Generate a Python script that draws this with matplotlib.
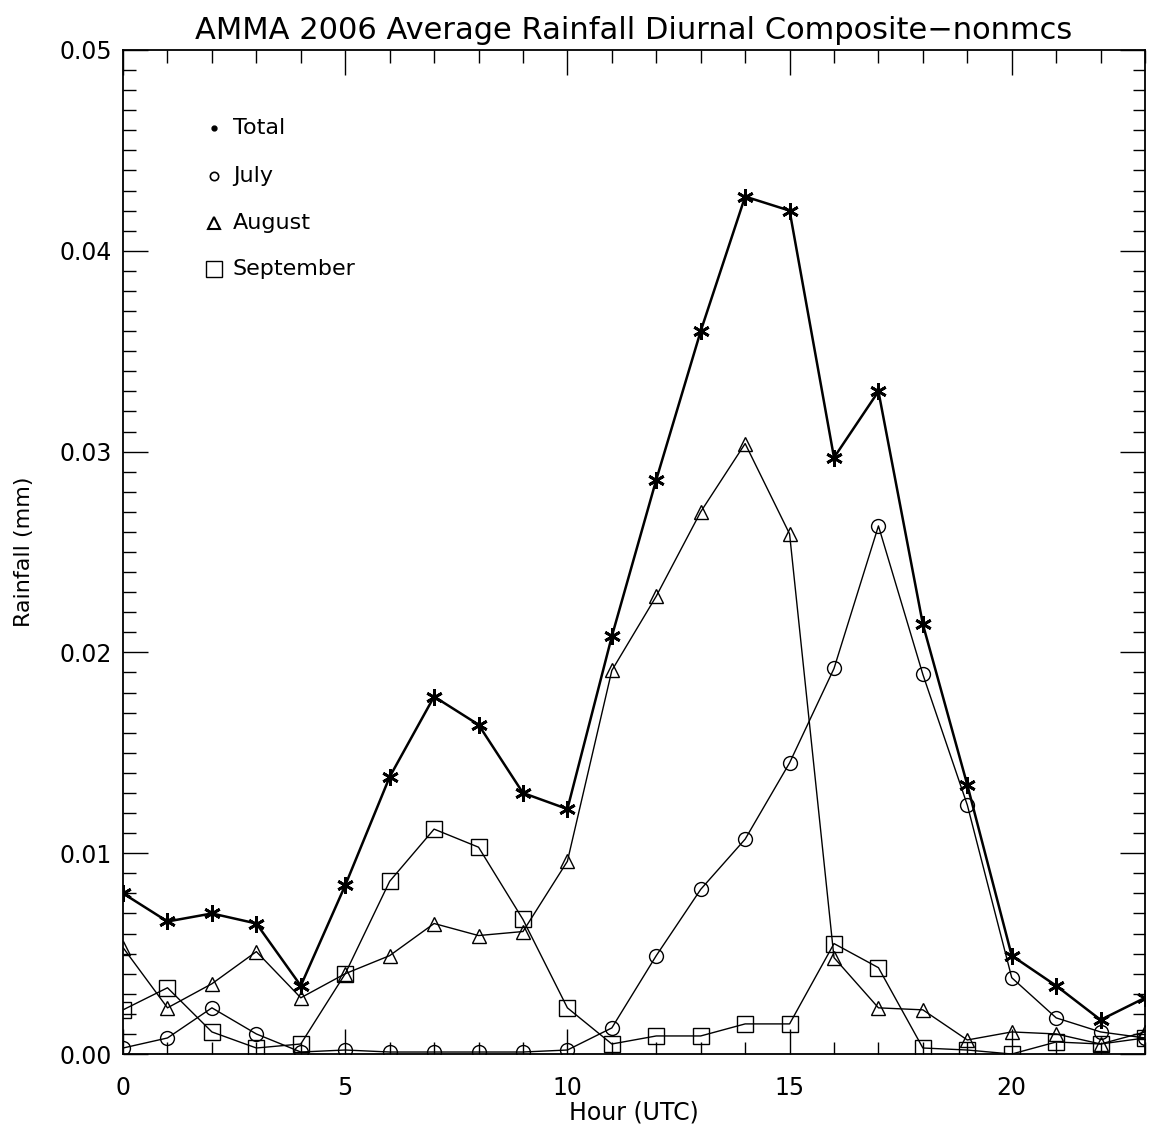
import numpy as np
import matplotlib
matplotlib.use('Agg')
import matplotlib.pyplot as plt

hours = np.arange(24)

total = [0.0080, 0.0066, 0.0070, 0.0065, 0.0034, 0.0084, 0.0138, 0.0178,
         0.0164, 0.0130, 0.0122, 0.0208, 0.0286, 0.0360, 0.0427, 0.0420,
         0.0297, 0.0330, 0.0214, 0.0134, 0.0049, 0.0034, 0.0017, 0.0028]
july = [0.0003, 0.0008, 0.0023, 0.0010, 0.0001, 0.0002, 0.0001, 0.0001,
        0.0001, 0.0001, 0.0002, 0.0013, 0.0049, 0.0082, 0.0107, 0.0145,
        0.0192, 0.0263, 0.0189, 0.0124, 0.0038, 0.0018, 0.0011, 0.0008]
august = [0.0053, 0.0023, 0.0035, 0.0051, 0.0028, 0.0040, 0.0049, 0.0065,
          0.0059, 0.0061, 0.0096, 0.0191, 0.0228, 0.0270, 0.0304, 0.0259,
          0.0048, 0.0023, 0.0022, 0.0007, 0.0011, 0.0010, 0.0005, 0.0011]
september = [0.0022, 0.0033, 0.0011, 0.0003, 0.0005, 0.0040, 0.0086, 0.0112,
             0.0103, 0.0067, 0.0023, 0.0005, 0.0009, 0.0009, 0.0015, 0.0015,
             0.0055, 0.0043, 0.0003, 0.0002, 0.0000, 0.0006, 0.0005, 0.0008]

legend_names = ['Total', 'July', 'August', 'September']

fig = plt.figure(figsize=(11.5, 11.33), dpi=100)
ax = fig.add_axes([0.107, 0.0697, 0.8887, 0.8862])

ax.plot(hours, total, color='black', lw=1.8, marker=(6, 2, 0), ms=12, mew=2.0)
ax.plot(hours, july, color='black', lw=1.0, marker='o', ms=10, mfc='none', mew=1.0)
ax.plot(hours, august, color='black', lw=1.0, marker='^', ms=10, mfc='none', mew=1.0)
ax.plot(hours, september, color='black', lw=1.0, marker='s', ms=11, mfc='none', mew=1.0)

# legend drawn by hand like the IDL plot
leg_marks = [dict(marker='o', ms=3.5, mfc='black', mec='black'),
             dict(marker='o', ms=6, mfc='none', mec='black', mew=1.2),
             dict(marker='^', ms=9, mfc='none', mec='black', mew=1.5),
             dict(marker='s', ms=11, mfc='none', mec='black', mew=1.0)]
leg_y = [0.0461, 0.0437, 0.0414, 0.0391]
leg_x = [2.05, 2.05, 2.05, 2.05]
for name, mk, yy, xx in zip(legend_names, leg_marks, leg_y, leg_x):
    ax.plot([xx], [yy], ls='none', **mk)
    ax.text(xx + 0.42, yy, name, fontsize=16, va='center', ha='left')

ax.set_xlim(0, 23)
ax.set_ylim(0, 0.05)
ax.set_xticks([0, 5, 10, 15, 20])
ax.set_xticks(np.arange(0, 24, 1), minor=True)
ax.set_yticks(np.arange(0, 0.051, 0.01))
ax.set_yticks(np.arange(0, 0.0501, 0.001), minor=True)
ax.set_yticklabels(['0.00', '0.01', '0.02', '0.03', '0.04', '0.05'])
ax.tick_params(which='both', direction='in', top=True, right=True, labelsize=17)
ax.tick_params(axis='x', pad=16)
ax.tick_params(axis='y', pad=8)
ax.tick_params(which='major', length=18, width=1.0)
ax.tick_params(which='minor', length=9, width=1.0)
for s in ax.spines.values():
    s.set_linewidth(1.3)

ax.set_xlabel('Hour (UTC)', fontsize=17, labelpad=0)
ax.set_ylabel('Rainfall (mm)', fontsize=16, labelpad=18)
ax.set_title('AMMA 2006 Average Rainfall Diurnal Composite\u2212nonmcs', fontsize=22, pad=8)

plt.savefig('out.png', dpi=100)
